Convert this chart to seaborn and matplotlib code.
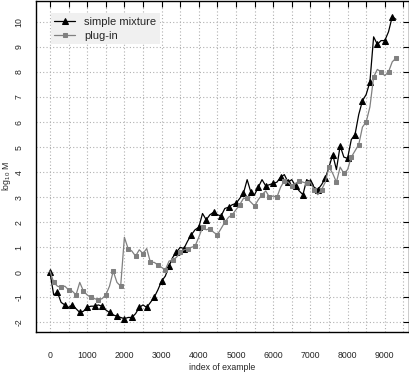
import matplotlib
matplotlib.use("Agg")
import matplotlib.pyplot as plt
import numpy as np
import pandas as pd
import seaborn as sns

# index of example (every 100 examples)
index = np.arange(0, 9301, 100)

# log10 M, simple mixture
simple_mixture = [
    0.0, -0.9, -0.8, -1.2, -1.3, -1.4, -1.3, -1.45, -1.6, -1.55,
    -1.4, -1.35, -1.35, -1.3, -1.35, -1.5, -1.6, -1.7, -1.75, -1.8,
    -1.85, -1.8, -1.8, -1.65, -1.4, -1.3, -1.4, -1.2, -1.0, -0.7,
    -0.35, -0.15, 0.25, 0.6, 0.8, 1.0, 0.95, 1.25, 1.5, 1.7,
    1.8, 2.35, 2.1, 2.3, 2.4, 2.3, 2.25, 2.55, 2.6, 2.7,
    2.75, 2.95, 3.15, 3.7, 3.2, 3.1, 3.4, 3.7, 3.45, 3.5,
    3.55, 3.6, 3.8, 3.9, 3.6, 3.7, 3.45, 3.25, 3.1, 3.7,
    3.6, 3.4, 3.3, 3.5, 3.75, 4.2, 4.7, 4.1, 5.05, 4.6,
    4.55, 5.3, 5.5, 6.3, 6.85, 7.1, 7.6, 9.4, 9.1, 9.25,
    9.25, 9.6, 10.2, 10.1,
]

# log10 M, plug-in
plug_in = [
    0.05, -0.4, -0.55, -0.6, -0.55, -0.7, -0.75, -0.9, -0.4, -0.75,
    -0.9, -1.0, -1.05, -1.1, -1.05, -0.9, -0.55, 0.05, -0.4, -0.55,
    1.4, 0.95, 0.85, 0.65, 0.9, 0.75, 0.95, 0.4, 0.4, 0.3,
    0.2, 0.1, 0.45, 0.5, 0.6, 0.8, 0.9, 0.95, 1.0, 1.05,
    1.4, 1.8, 1.7, 1.75, 1.6, 1.5, 1.75, 2.0, 2.2, 2.3,
    2.5, 2.7, 2.95, 2.95, 2.8, 2.65, 2.9, 3.1, 3.25, 3.0,
    3.05, 3.0, 3.4, 3.65, 3.6, 3.45, 3.55, 3.65, 3.6, 3.55,
    3.6, 3.3, 3.1, 3.3, 3.6, 4.2, 3.95, 3.6, 4.2, 3.95,
    4.1, 4.6, 4.85, 5.1, 5.8, 6.0, 6.6, 7.8, 8.1, 8.0,
    7.85, 8.0, 8.4, 8.55,
]

x_ticks = np.arange(0, 9501, 500)
y_ticks = np.arange(-2, 11, 1)

df = pd.DataFrame({"index": index, "simple mixture": simple_mixture, "plug-in": plug_in})

sns.set_style("white")
plt.rcParams["font.family"] = ["Liberation Sans", "DejaVu Sans"]
plt.rcParams["mathtext.default"] = "regular"

fig = plt.figure(figsize=(4.1, 3.72), dpi=100)
ax = fig.add_axes([36 / 410, 40 / 372, 373 / 410, 331.5 / 372])

sns.lineplot(data=df, x="index", y="simple mixture", color="black", lw=0.9,
             marker="^", markersize=4.5, markevery=(0, 2), mec="black",
             label="simple mixture", ax=ax)
sns.lineplot(data=df, x="index", y="plug-in", color="#808080", lw=0.9,
             marker="s", markersize=3.5, markevery=(1, 2), mec="#808080",
             label="plug-in", ax=ax)

ax.set_xlim(-376, 9651)
ax.set_ylim(-2.38, 10.85)

ax.set_xticks(x_ticks)
ax.set_xticklabels([str(t) if t % 1000 == 0 else "" for t in x_ticks])
ax.set_yticks(y_ticks)
ax.set_yticklabels([str(t) for t in y_ticks], rotation=90, va="center")

ax.tick_params(axis="both", direction="in", length=4, width=0.8, labelsize=6.3,
               top=True, right=True, color="black")
ax.tick_params(axis="x", pad=14)
ax.tick_params(axis="y", pad=9)

ax.grid(True, color="#b0b0b0", linestyle=(0, (1, 2)), linewidth=0.8)
for s in ax.spines.values():
    s.set_color("black")
    s.set_linewidth(1.0)

ax.set_xlabel("index of example", fontsize=6.3, labelpad=2)
ax.set_ylabel("log$_{10}$ M", fontsize=6.3)
ax.yaxis.set_label_coords(-0.061, 0.47)

leg = ax.legend(loc="upper left", bbox_to_anchor=(0.04, 0.961), borderaxespad=0,
                fontsize=8, frameon=True, fancybox=False, framealpha=1,
                handlelength=1.9, handletextpad=0.8, labelspacing=0.35,
                borderpad=0.3)
leg.get_frame().set_facecolor("#f0f0f0")
leg.get_frame().set_edgecolor("none")

fig.savefig("out.png", dpi=100, facecolor="white")
